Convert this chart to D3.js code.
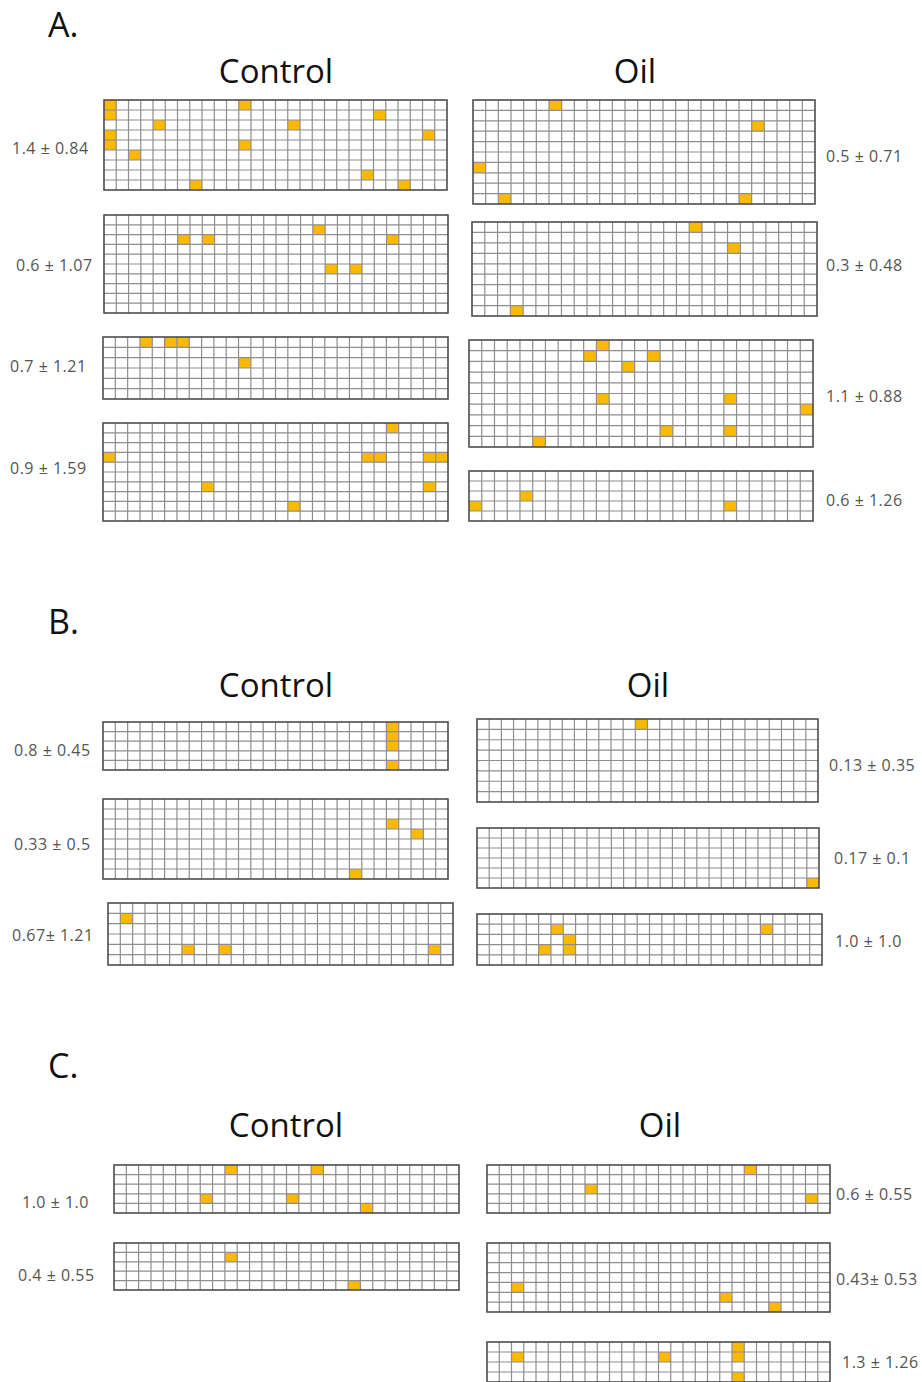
<!DOCTYPE html>
<html>
<head>
<meta charset="utf-8">
<script src="https://cdn.jsdelivr.net/npm/d3@7"></script>
<style>
  body { margin: 0; background: #fff; }
  .section { font-family: "Open Sans", sans-serif; font-size: 34px; fill: #111; }
  .group { font-family: "Open Sans", sans-serif; font-size: 33px; fill: #111; }
  .stat { font-family: "Open Sans", sans-serif; font-size: 16px; letter-spacing: 0.5px; fill: #555; }
</style>
</head>
<body>
<div id="chart"></div>
<script>

// ---- data ----
const sections = ["A.", "B.", "C."];
const groups = ["Control", "Oil"];

// one entry per grid panel: A control x4, A oil x4, B control x3, B oil x3, C control x2, C oil x3
const panelSection = [0,0,0,0, 0,0,0,0, 1,1,1, 1,1,1, 2,2, 2,2,2];
const panelGroup   = [0,0,0,0, 1,1,1,1, 0,0,0, 1,1,1, 0,0, 1,1,1];
const panelRows    = [9,10,6,10, 10,9,10,5, 5,8,6, 8,6,5, 5,5, 5,7,4];
const panelCols    = [28,28,28,28, 27,27,27,27, 28,28,28, 28,28,28, 28,28, 28,28,28];
const panelLabels  = [
    "1.4 ± 0.84", "0.6 ± 1.07", "0.7  ± 1.21", "0.9 ± 1.59",
    "0.5 ± 0.71", "0.3 ± 0.48", "1.1 ± 0.88", "0.6 ± 1.26",
    "0.8 ± 0.45", "0.33 ± 0.5", "0.67± 1.21",
    "0.13 ± 0.35", "0.17 ± 0.1", "1.0 ± 1.0",
    "1.0 ± 1.0", "0.4 ± 0.55",
    "0.6 ± 0.55", "0.43± 0.53", "1.3 ± 1.26"
];
// marked cells as [column, row]
const panelCells = [
    [[0,0],[11,0],[0,1],[22,1],[4,2],[15,2],[0,3],[26,3],[0,4],[11,4],[2,5],[21,7],[7,8],[24,8]],
    [[17,1],[6,2],[8,2],[23,2],[18,5],[20,5]],
    [[3,0],[5,0],[6,0],[11,2]],
    [[23,0],[0,3],[21,3],[22,3],[26,3],[27,3],[8,6],[26,6],[15,8]],
    [[6,0],[22,2],[0,6],[2,9],[21,9]],
    [[17,0],[20,2],[3,8]],
    [[10,0],[9,1],[14,1],[12,2],[10,5],[20,5],[26,6],[15,8],[20,8],[5,9]],
    [[4,2],[0,3],[20,3]],
    [[23,0],[23,1],[23,2],[23,4]],
    [[23,2],[25,3],[20,7]],
    [[1,1],[6,4],[9,4],[26,4]],
    [[13,0]],
    [[27,5]],
    [[6,1],[23,1],[7,2],[5,3],[7,3]],
    [[9,0],[16,0],[7,3],[14,3],[20,4]],
    [[9,1],[19,4]],
    [[21,0],[8,2],[26,3]],
    [[2,4],[19,5],[23,6]],
    [[20,0],[2,1],[14,1],[20,1],[20,3]]
];

// ---- layout (pixel boxes of each panel and where its label sits) ----
const panelBoxes = [
    [104,100,447,190], [104,215,448,313], [103,337,448,399], [103,423,448,521],
    [473,100,815,204], [472,222,817,316], [469,340,813,447], [469,471,813,521],
    [103,722,448,770], [103,799,448,879], [108,903,453,965],
    [477,719,818,802], [477,828,819,888], [477,914,822,965],
    [114,1165,459,1213], [114,1243,459,1290],
    [487,1165,830,1213], [487,1243,830,1312], [487,1342,830,1382]
];
const labelPos = [
    [12,148], [16,265], [10,366], [10,468],
    [826,156], [826,265], [826,396], [826,500],
    [14,750], [14,844], [12,935],
    [829,765], [834,858], [835,941],
    [22,1202], [18,1275],
    [836,1194], [836,1279], [842,1362]
];
const sectionPos = [[48,37], [48,634], [48,1078]];
const groupPos = [[[276,83],[635,83]], [[276,697],[648,697]], [[286,1137],[660,1137]]];


class GridPanel {

    constructor(_svg, _index) {
        this.svg = _svg;
        this.i = _index;
        this.initVis();
    }

    initVis() {
        let vis = this;
        let b = panelBoxes[vis.i];

        vis.x = d3.scaleBand()
            .domain(d3.range(panelCols[vis.i]))
            .range([b[0], b[2]]);
        vis.y = d3.scaleBand()
            .domain(d3.range(panelRows[vis.i]))
            .range([b[1], b[3]]);

        vis.g = vis.svg.append("g").attr("class", "panel");

        vis.g.append("rect")
            .attr("x", b[0]).attr("y", b[1])
            .attr("width", b[2] - b[0]).attr("height", b[3] - b[1])
            .attr("fill", "#fff");

        // marked cells
        vis.g.selectAll(".cell")
            .data(panelCells[vis.i])
            .enter()
            .append("rect")
            .attr("class", "cell")
            .attr("x", d => vis.x(d[0]))
            .attr("y", d => vis.y(d[1]))
            .attr("width", vis.x.bandwidth())
            .attr("height", vis.y.bandwidth())
            .attr("fill", "#fbb900");

        // grid lines
        vis.g.selectAll(".vline")
            .data(d3.range(1, panelCols[vis.i]))
            .enter()
            .append("line")
            .attr("class", "vline")
            .attr("x1", d => vis.x(d)).attr("x2", d => vis.x(d))
            .attr("y1", b[1]).attr("y2", b[3])
            .attr("stroke", "#8e8e8e")
            .attr("stroke-width", 1.2);

        vis.g.selectAll(".hline")
            .data(d3.range(1, panelRows[vis.i]))
            .enter()
            .append("line")
            .attr("class", "hline")
            .attr("y1", d => vis.y(d)).attr("y2", d => vis.y(d))
            .attr("x1", b[0]).attr("x2", b[2])
            .attr("stroke", "#8e8e8e")
            .attr("stroke-width", 1.2);

        vis.g.append("rect")
            .attr("x", b[0]).attr("y", b[1])
            .attr("width", b[2] - b[0]).attr("height", b[3] - b[1])
            .attr("fill", "none")
            .attr("stroke", "#4d4d4d")
            .attr("stroke-width", 1.6);

        vis.svg.append("text")
            .attr("class", "stat")
            .attr("x", labelPos[vis.i][0])
            .attr("y", labelPos[vis.i][1])
            .attr("dy", "0.35em")
            .text(panelLabels[vis.i]);
    }
}


const svg = d3.select("#chart").append("svg")
    .attr("width", 922)
    .attr("height", 1382);

sections.forEach((s, si) => {
    svg.append("text")
        .attr("class", "section")
        .attr("x", sectionPos[si][0])
        .attr("y", sectionPos[si][1])
        .text(s);

    groups.forEach((gName, gi) => {
        svg.append("text")
            .attr("class", "group")
            .attr("text-anchor", "middle")
            .attr("x", groupPos[si][gi][0])
            .attr("y", groupPos[si][gi][1])
            .text(gName);
    });
});

let panels = panelBoxes.map((b, i) => new GridPanel(svg, i));

</script>
</body>
</html>
